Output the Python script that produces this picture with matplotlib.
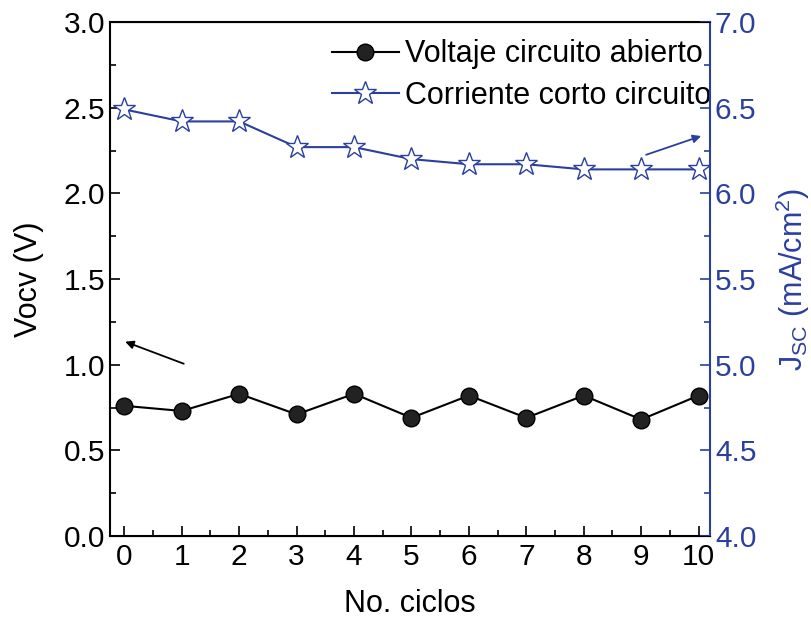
import matplotlib.pyplot as plt
from matplotlib.ticker import MultipleLocator

plt.rcParams['font.family'] = ['Liberation Sans', 'DejaVu Sans']
plt.rcParams['mathtext.fontset'] = 'custom'
plt.rcParams['mathtext.rm'] = 'Liberation Sans'

ciclos = [0, 1, 2, 3, 4, 5, 6, 7, 8, 9, 10]
vocv = [0.76, 0.73, 0.83, 0.71, 0.83, 0.69, 0.82, 0.69, 0.82, 0.68, 0.82]
jsc = [6.49, 6.42, 6.42, 6.27, 6.27, 6.20, 6.17, 6.17, 6.14, 6.14, 6.14]

azul = '#2b3f9e'

fig = plt.figure(figsize=(8.11, 6.23), dpi=100)
ax = fig.add_axes([0.1356, 0.1396, 0.74, 0.825])
ax2 = ax.twinx()

l1, = ax.plot(ciclos, vocv, '-o', color='black', markersize=12, linewidth=1.5,
              markerfacecolor='#222222', markeredgecolor='black',
              label='Voltaje circuito abierto')
l2, = ax2.plot(ciclos, jsc, '-*', color=azul, markersize=17, linewidth=1.5,
               markerfacecolor='white', markeredgecolor=azul, markeredgewidth=1.0,
               label='Corriente corto circuito')

ax.set_xlim(-0.25, 10.2)
ax.set_ylim(0, 3.0)
ax2.set_ylim(4.0, 7.0)

ax.xaxis.set_major_locator(MultipleLocator(1))
ax.xaxis.set_minor_locator(MultipleLocator(0.5))
ax.yaxis.set_major_locator(MultipleLocator(0.5))
ax.yaxis.set_minor_locator(MultipleLocator(0.25))
ax2.yaxis.set_major_locator(MultipleLocator(0.5))
ax2.yaxis.set_minor_locator(MultipleLocator(0.25))
ax.yaxis.set_major_formatter(plt.FormatStrFormatter('%.1f'))
ax2.yaxis.set_major_formatter(plt.FormatStrFormatter('%.1f'))

ax.tick_params(axis='both', which='major', direction='in', length=7, width=1.2, labelsize=21.5)
ax.tick_params(axis='both', which='minor', direction='in', length=4, width=1.2)
ax.tick_params(axis='x', pad=5)
ax2.tick_params(axis='y', which='major', direction='in', length=7, width=1.2,
                labelsize=21.5, colors=azul)
ax2.tick_params(axis='y', which='minor', direction='in', length=4, width=1.2, colors=azul)

for s in ['left', 'bottom', 'top']:
    ax.spines[s].set_linewidth(1.5)
ax2.spines['right'].set_color(azul)
ax2.spines['right'].set_linewidth(1.5)
ax.spines['right'].set_visible(False)
ax2.spines['left'].set_visible(False)

ax.set_xlabel('No. ciclos', fontsize=22, labelpad=13)
ax.set_ylabel('Vocv (V)', fontsize=22, labelpad=14)
ax2.set_ylabel(r'J$_{\mathrm{SC}}$ (mA/cm$^2$)', fontsize=22, color=azul, labelpad=12)

ax.annotate('', xy=(-0.03, 1.14), xytext=(1.08, 1.0),
            arrowprops=dict(arrowstyle='-|>', color='black', lw=1.3, mutation_scale=12))
ax2.annotate('', xy=(10.09, 6.34), xytext=(9.04, 6.22),
             arrowprops=dict(arrowstyle='-|>', color=azul, lw=1.3, mutation_scale=12))

ax.legend(handles=[l1, l2], loc='upper right', bbox_to_anchor=(1.022, 0.99),
          frameon=False, fontsize=22, handlelength=2.2, handletextpad=0.2,
          borderaxespad=0.1, borderpad=0.3, labelspacing=0.38)

fig.savefig('out.png', dpi=100)
